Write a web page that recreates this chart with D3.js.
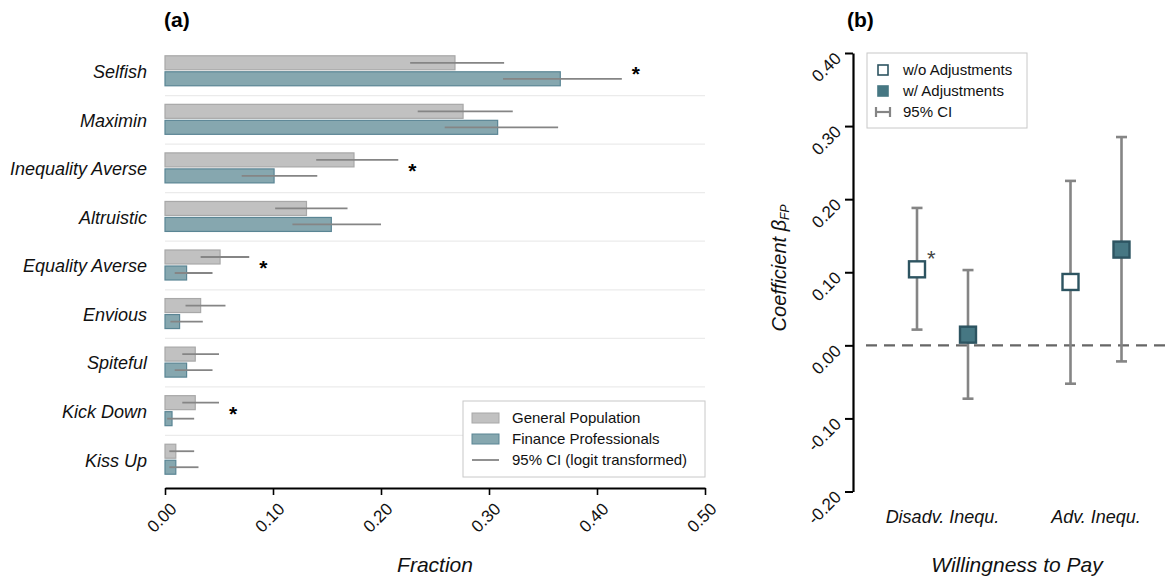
<!DOCTYPE html>
<html><head><meta charset="utf-8">
<script src="https://cdn.jsdelivr.net/npm/d3@7"></script>
<style>
body{margin:0;background:#fff;}
text{font-family:"Liberation Sans",Arial,sans-serif;}
</style></head>
<body><svg id="c" width="1175" height="579"></svg>
<script>
// ---- Panel (a) data ----
const categories = ["Selfish","Maximin","Inequality Averse","Altruistic","Equality Averse","Envious","Spiteful","Kick Down","Kiss Up"];
const gpValues = [0.2685,0.276,0.175,0.131,0.051,0.033,0.028,0.028,0.010];
const gpLow    = [0.227,0.234,0.140,0.102,0.033,0.019,0.016,0.016,0.004];
const gpHigh   = [0.314,0.322,0.216,0.169,0.078,0.056,0.050,0.050,0.027];
const fpValues = [0.366,0.308,0.101,0.154,0.020,0.0135,0.020,0.0065,0.010];
const fpLow    = [0.313,0.259,0.071,0.118,0.009,0.005,0.009,0.002,0.004];
const fpHigh   = [0.423,0.364,0.141,0.200,0.044,0.035,0.044,0.027,0.031];
const starredA = ["Selfish","Inequality Averse","Equality Averse","Kick Down"];
const xTicksA  = [0,0.1,0.2,0.3,0.4,0.5];

// ---- Panel (b) data ----
const groupsB = ["Disadv. Inequ.","Adv. Inequ."];
const seriesB = ["w/o Adjustments","w/ Adjustments"];
const coefB = [[0.104,0.0146],[0.0867,0.131]];
const lowB  = [[0.0215,-0.073],[-0.0525,-0.022]];
const highB = [[0.188,0.103],[0.225,0.285]];
const yTicksB = [-0.2,-0.1,0,0.1,0.2,0.3,0.4];

const svg = d3.select("#c");
const GRAY="#c1c1c1", GRAYS="#a8a8a8", TEAL="#86a7af", TEALS="#5a8594", CI="#858585";
const MK="#2d5461", MKF="#467783";
const fmt = v => d3.format(".2f")(v).replace("\u2212","-");

// ===== Panel A =====
const x = d3.scaleLinear().domain([0,0.5]).range([165,705]);
const y = d3.scaleBand().domain(categories).range([47,484]);
const gA = svg.append("g");

categories.slice(1).forEach(c=>{
  gA.append("line").attr("x1",165).attr("x2",705)
    .attr("y1",y(c)).attr("y2",y(c)).attr("stroke","#ebebeb").attr("stroke-width",1.2);
});
const bh=14;
categories.forEach((c,i)=>{
  const cy=y(c)+y.bandwidth()/2 - 0.5;
  gA.append("rect").attr("x",x(0)).attr("y",cy-bh-1).attr("width",x(gpValues[i])-x(0)).attr("height",bh)
    .attr("fill",GRAY).attr("stroke",GRAYS).attr("stroke-width",1.2);
  gA.append("rect").attr("x",x(0)).attr("y",cy+1).attr("width",x(fpValues[i])-x(0)).attr("height",bh)
    .attr("fill",TEAL).attr("stroke",TEALS).attr("stroke-width",1.2);
  gA.append("line").attr("x1",x(gpLow[i])).attr("x2",x(gpHigh[i])).attr("y1",cy-bh/2-1).attr("y2",cy-bh/2-1)
    .attr("stroke",CI).attr("stroke-width",1.8);
  gA.append("line").attr("x1",x(fpLow[i])).attr("x2",x(fpHigh[i])).attr("y1",cy+bh/2+1).attr("y2",cy+bh/2+1)
    .attr("stroke",CI).attr("stroke-width",1.8);
  if(starredA.includes(c)){
    const mx=Math.max(gpHigh[i],fpHigh[i]);
    gA.append("text").attr("x",x(mx)+10).attr("y",cy+10).attr("font-size",21).attr("font-weight","bold").text("*");
  }
  gA.append("text").attr("x",147).attr("y",cy+1).attr("dy","0.35em").attr("text-anchor","end")
    .attr("font-size",18).attr("font-style","italic").attr("fill","#111").text(c);
});

const xAxis = gA.append("g").attr("transform","translate(0,488)")
  .call(d3.axisBottom(x).tickValues(xTicksA).tickFormat(fmt).tickSize(7).tickSizeOuter(0));
xAxis.select(".domain").attr("stroke","#000").attr("stroke-width",2);
xAxis.selectAll(".tick line").attr("stroke","#000").attr("stroke-width",1.6);
xAxis.selectAll(".tick text").attr("font-size",17).attr("fill","#111")
  .attr("text-anchor","end").attr("dy",0).attr("transform","translate(5,15) rotate(-45)");
gA.append("text").attr("x",435).attr("y",572).attr("text-anchor","middle").attr("font-size",21)
  .attr("font-style","italic").attr("fill","#111").text("Fraction");
svg.append("text").attr("x",164).attr("y",27).attr("font-size",21).attr("font-weight","bold").text("(a)");

const lgA = gA.append("g");
lgA.append("rect").attr("x",463).attr("y",401).attr("width",242).attr("height",76).attr("fill","#fff").attr("stroke","#c8c8c8");
const legA=[{t:"General Population",k:"g"},{t:"Finance Professionals",k:"f"},{t:"95% CI (logit transformed)",k:"l"}];
legA.forEach((d,i)=>{
  const ly=418+i*21;
  if(d.k==="l") lgA.append("line").attr("x1",472).attr("x2",499).attr("y1",ly).attr("y2",ly).attr("stroke",CI).attr("stroke-width",1.8);
  else lgA.append("rect").attr("x",472).attr("y",ly-5).attr("width",27).attr("height",10)
      .attr("fill",d.k==="g"?GRAY:TEAL).attr("stroke",d.k==="g"?GRAYS:TEALS);
  lgA.append("text").attr("x",512).attr("y",ly).attr("dy","0.35em").attr("font-size",15).attr("fill","#111").text(d.t);
});

// ===== Panel B =====
const yb = d3.scaleLinear().domain([-0.2,0.4]).range([491.5,53]);
const xg = d3.scalePoint().domain(groupsB).range([942.5,1096]);
const off = [-25.5,25.5];
const gB = svg.append("g");

const yAxis = gB.append("g").attr("transform","translate(853,0)")
  .call(d3.axisLeft(yb).tickValues(yTicksB).tickFormat(fmt).tickSize(8).tickSizeOuter(0));
yAxis.select(".domain").attr("stroke","#000").attr("stroke-width",2.2);
yAxis.selectAll(".tick line").attr("stroke","#000").attr("stroke-width",2);
yAxis.selectAll(".tick text").attr("font-size",17).attr("fill","#111")
  .attr("text-anchor","end").attr("dy",0).attr("x",0).attr("transform","translate(-14,3) rotate(-45)").attr("dominant-baseline","middle");

gB.append("line").attr("x1",866).attr("x2",1172).attr("y1",yb(0)).attr("y2",yb(0))
  .attr("stroke","#666").attr("stroke-width",2.2).attr("stroke-dasharray","11,7");

groupsB.forEach((g,gi)=>{
  seriesB.forEach((s,si)=>{
    const cx=xg(g)+off[si];
    gB.append("line").attr("x1",cx).attr("x2",cx).attr("y1",yb(lowB[gi][si])).attr("y2",yb(highB[gi][si]))
      .attr("stroke",CI).attr("stroke-width",2.6);
    [lowB[gi][si],highB[gi][si]].forEach(v=>{
      gB.append("line").attr("x1",cx-5.5).attr("x2",cx+5.5).attr("y1",yb(v)).attr("y2",yb(v))
        .attr("stroke",CI).attr("stroke-width",2.6);
    });
    const sz=16;
    gB.append("rect").attr("x",cx-sz/2).attr("y",yb(coefB[gi][si])-sz/2).attr("width",sz).attr("height",sz)
      .attr("fill",si===0?"#fff":MKF).attr("stroke",MK).attr("stroke-width",2.4);
  });
  gB.append("text").attr("x",xg(g)).attr("y",523).attr("text-anchor","middle").attr("font-size",18)
    .attr("font-style","italic").attr("fill","#111").text(g);
});
gB.append("text").attr("x",xg(groupsB[0])+off[0]+10).attr("y",yb(coefB[0][0])-3).attr("font-size",22)
  .attr("fill","#444").text("*");

gB.append("text").attr("x",1017).attr("y",572).attr("text-anchor","middle").attr("font-size",21)
  .attr("font-style","italic").attr("fill","#111").text("Willingness to Pay");
const yl = gB.append("text").attr("transform","translate(786,268) rotate(-90)").attr("text-anchor","middle")
  .attr("font-size",20).attr("font-style","italic").attr("fill","#111");
yl.append("tspan").text("Coefficient β");
yl.append("tspan").attr("font-size",12).attr("dy",3).text("FP");
svg.append("text").attr("x",847).attr("y",27).attr("font-size",21).attr("font-weight","bold").text("(b)");

const lgB = gB.append("g");
lgB.append("rect").attr("x",867).attr("y",53).attr("width",160).attr("height",75).attr("fill","#fff").attr("stroke","#c8c8c8");
const legB=[{t:"w/o Adjustments",k:0},{t:"w/ Adjustments",k:1},{t:"95% CI",k:2}];
legB.forEach((d,i)=>{
  const ly=70+i*21;
  if(d.k===2){
    lgB.append("line").attr("x1",876).attr("x2",890).attr("y1",ly).attr("y2",ly).attr("stroke",CI).attr("stroke-width",2.2);
    lgB.append("line").attr("x1",876).attr("x2",876).attr("y1",ly-5).attr("y2",ly+5).attr("stroke",CI).attr("stroke-width",2.2);
    lgB.append("line").attr("x1",890).attr("x2",890).attr("y1",ly-5).attr("y2",ly+5).attr("stroke",CI).attr("stroke-width",2.2);
  } else {
    lgB.append("rect").attr("x",878).attr("y",ly-5).attr("width",10).attr("height",10)
      .attr("fill",d.k===0?"#fff":MKF).attr("stroke",d.k===0?MK:MKF).attr("stroke-width",1.6);
  }
  lgB.append("text").attr("x",903).attr("y",ly).attr("dy","0.35em").attr("font-size",15).attr("fill","#111").text(d.t);
});
</script></body></html>
